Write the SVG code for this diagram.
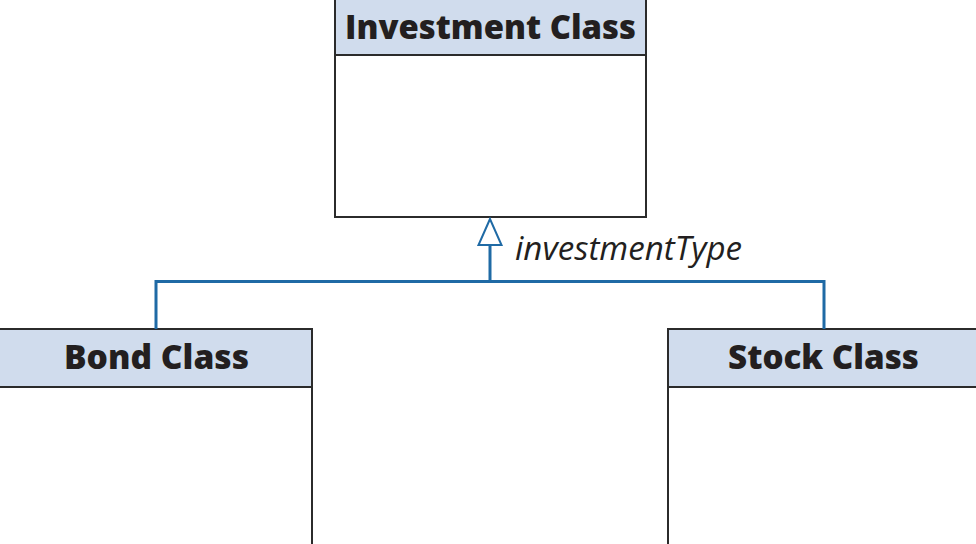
<svg xmlns="http://www.w3.org/2000/svg" width="976" height="544" viewBox="0 0 976 544">
<style>
.box{fill:#ffffff;stroke:#2b2b2b;stroke-width:2}
.hdr{fill:#d0dced;stroke:#2b2b2b;stroke-width:2}
.title{font-family:"Open Sans","Noto Sans",sans-serif;font-weight:800;font-size:34px;fill:#231f20;text-anchor:middle}
.conn{fill:none;stroke:#1f6aa5;stroke-width:3}
.lbl{font-family:"Open Sans","Noto Sans",sans-serif;font-style:italic;font-size:33px;fill:#231f20}
</style>
<rect width="976" height="544" fill="#ffffff"/>
<g id="investment">
<rect class="box" x="335" y="-2" width="311" height="219"/>
<rect class="hdr" x="335" y="-2" width="311" height="57"/>
<text class="title" x="490.5" y="39" textLength="291" lengthAdjust="spacingAndGlyphs">Investment Class</text>
</g>
<g id="bond">
<rect class="box" x="-2" y="329" width="314" height="220"/>
<rect class="hdr" x="-2" y="329" width="314" height="58"/>
<text class="title" x="156.5" y="369" textLength="185" lengthAdjust="spacingAndGlyphs">Bond Class</text>
</g>
<g id="stock">
<rect class="box" x="668" y="329" width="312" height="220"/>
<rect class="hdr" x="668" y="329" width="312" height="58"/>
<text class="title" x="823.5" y="369" textLength="191" lengthAdjust="spacingAndGlyphs">Stock Class</text>
</g>
<g id="connectors">
<path class="conn" d="M156 329 V281.5 H824 V329"/>
<path class="conn" d="M490 281.5 V245"/>
<polygon points="490,219 478.5,245 501.5,245" fill="#ffffff" stroke="#1f6aa5" stroke-width="2"/>
<text class="lbl" x="515" y="260" textLength="227" lengthAdjust="spacingAndGlyphs">investmentType</text>
</g>
</svg>
